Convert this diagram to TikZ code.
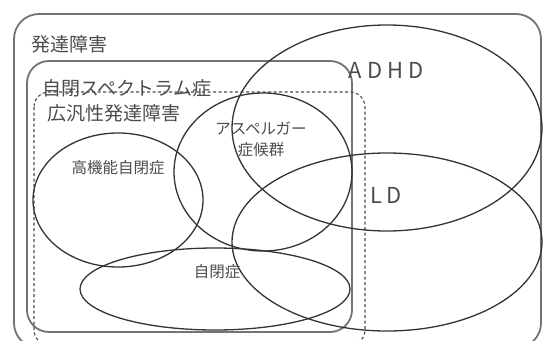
\documentclass[tikz,border=0pt]{standalone}
\usepackage{fontspec}
\setmainfont{Noto Sans CJK JP}
\begin{document}
\begin{tikzpicture}[x=1pt,y=-1pt,
  frame/.style={draw=black!55,line width=1.8pt},
  dframe/.style={draw=black!70,line width=1.1pt,dash pattern=on 3pt off 2.5pt},
  set/.style={draw=black!80,line width=1.3pt},
  lab/.style={text=black!70,inner sep=0pt},
  big/.style={lab,font=\fontsize{19}{22}\selectfont},
  mid/.style={lab,font=\fontsize{15.5}{21}\selectfont,align=center},
  latin/.style={lab,font=\fontsize{22}{24}\selectfont}]
\useasboundingbox (0,0) rectangle (545,340);
\clip (0,0) rectangle (545,340);
% frames
\draw[frame,rounded corners=25] (14,14) rectangle (541,348);
\draw[frame,rounded corners=22] (27,61) rectangle (352,332);
\draw[dframe,rounded corners=15] (34,92) rectangle (365,345);
% sets
\draw[set] (118,200) ellipse [x radius=85,y radius=67];
\draw[set] (263,172) ellipse [x radius=89,y radius=79];
\draw[set] (387,128) ellipse [x radius=155,y radius=103];
\draw[set] (387,242) ellipse [x radius=155,y radius=89];
\draw[set] (215,289) ellipse [x radius=135,y radius=41];
% labels
\node[big,anchor=west] (hattatsu) at (31,44) {発達障害};
\node[big,anchor=west] (asd) at (42,88) {自閉スペクトラム症};
\node[big,anchor=west] (pdd) at (47,113) {広汎性発達障害};
\node[mid] (hfa) at (118,168) {高機能自閉症};
\node[mid] (as) at (261,139) {アスペルガー\\症候群};
\node[mid] (aut) at (217,272) {自閉症};
\node[latin] (adhd) at (386,70) {A D H D};
\node[latin] (ld) at (386,195) {L D};
\end{tikzpicture}
\end{document}
